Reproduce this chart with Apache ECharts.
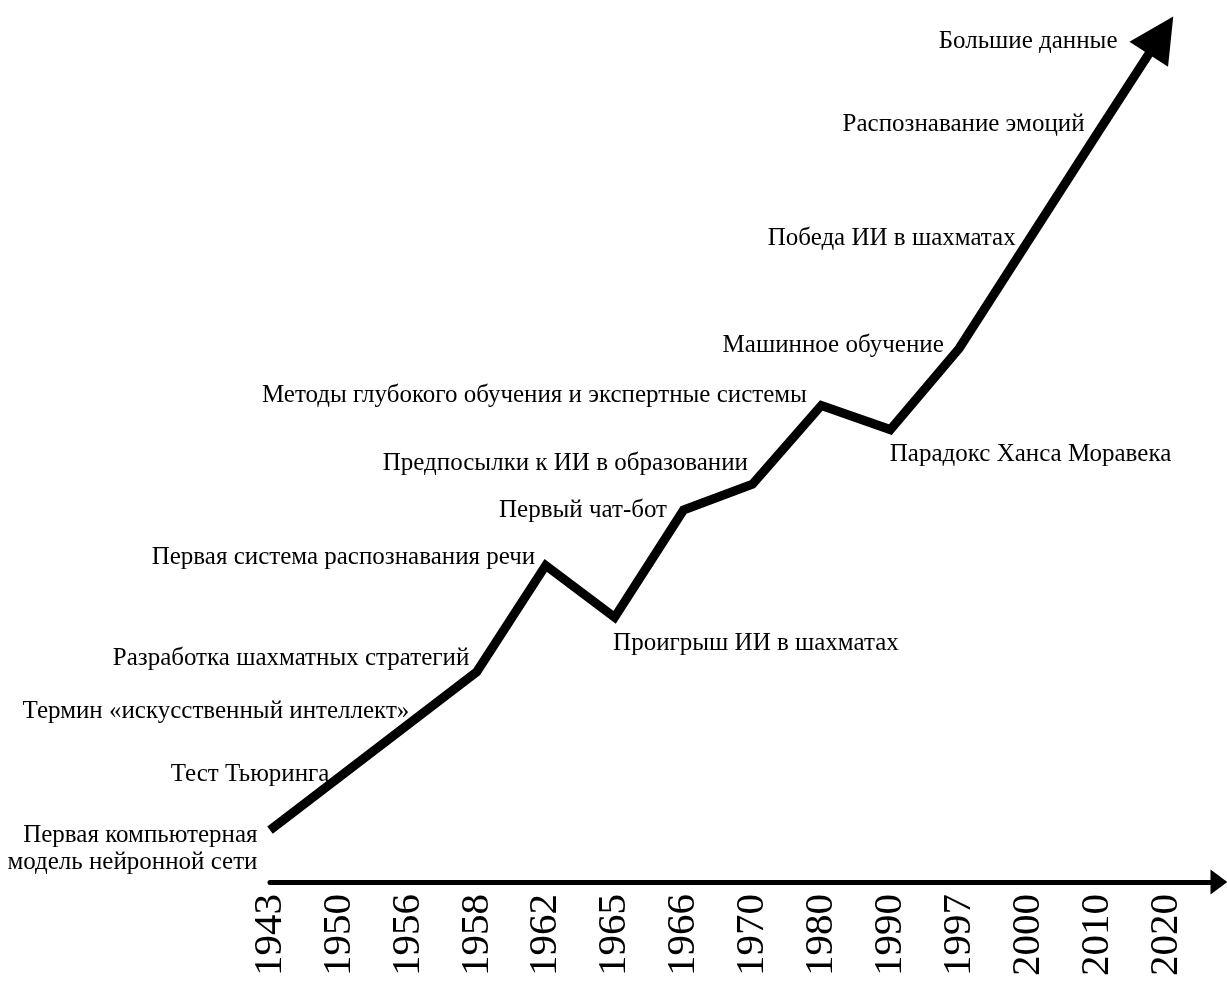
<!DOCTYPE html>
<html>
<head>
<meta charset="utf-8">
<script src="https://cdn.jsdelivr.net/npm/echarts@6/dist/echarts.min.js"></script>
<style>
html,body{margin:0;padding:0;background:#fff;}
#chart{width:1227px;height:982px;}
</style>
</head>
<body>
<div id="chart"></div>
<script>
// Years (category axis tick labels)
var years = ['1943','1950','1956','1958','1962','1965','1966','1970','1980','1990','1997','2000','2010','2020'];
// Progress level (relative units)
var levels = [6.0, 12.1, 18.2, 24.3, 36.6, 30.6, 43.0, 46.0, 55.1, 52.3, 61.7, 74.1, 86.5, 98.8];
// Event labels
var events = [
  'Первая компьютерная\nмодель нейронной сети',
  'Тест Тьюринга',
  'Термин «искусственный интеллект»',
  'Разработка шахматных стратегий',
  'Первая система распознавания речи',
  'Проигрыш ИИ в шахматах',
  'Первый чат-бот',
  'Предпосылки к ИИ в образовании',
  'Методы глубокого обучения и экспертные системы',
  'Парадокс Ханса Моравека',
  'Машинное обучение',
  'Победа ИИ в шахматах',
  'Распознавание эмоций',
  'Большие данные'
];
// label placement (style only)
var labelSide = ['left','left','left','left','left','right','left','left','left','right','left','left','left','left'];
var labelOffset = [[-12,19],[-9,-3],[2,-13],[-7,-13],[-10,-8],[-2,26],[-16,0],[-4,-21],[-14,-10],[-1,25],[-15,-3],[-12,-3],[-12,-9],[-48,14]];

var FONT = 'Liberation Serif';
var lineData = levels.map(function(v, i){
  return {
    value: v,
    label: {
      show: true,
      position: labelSide[i],
      distance: 0,
      offset: labelOffset[i],
      align: labelSide[i] === 'left' ? 'right' : 'left',
      verticalAlign: 'middle',
      formatter: events[i]
    }
  };
});

var chart = echarts.init(document.getElementById('chart'), null, {renderer:'canvas'});
chart.setOption({
  backgroundColor: '#fff',
  animation: false,
  grid: [
    {left: 270, right: 61, top: 17, bottom: 100},
    {left: 270, right: 8, top: 17, bottom: 100}
  ],
  xAxis: [
    {
      type: 'category', gridIndex: 0, data: years, boundaryGap: false,
      axisLine: {show: false}, axisTick: {show: false}, splitLine: {show: false},
      axisLabel: {rotate: 90, margin: 12, fontSize: 41, color: '#000', fontFamily: FONT, interval: 0}
    },
    {
      type: 'value', gridIndex: 1, min: 0, max: 1,
      axisLine: {show: true, lineStyle: {color: '#000', width: 5}, symbol: ['none','triangle'], symbolSize: [25, 17]},
      axisTick: {show: false}, axisLabel: {show: false}, splitLine: {show: false}
    }
  ],
  yAxis: [
    {type: 'value', gridIndex: 0, min: 0, max: 100, show: false},
    {type: 'value', gridIndex: 1, min: 0, max: 100, show: false}
  ],
  series: [
    {
      type: 'line', xAxisIndex: 0, yAxisIndex: 0,
      data: lineData,
      symbol: 'circle', symbolSize: 1, showSymbol: true,
      itemStyle: {color: 'rgba(0,0,0,0)'},
      lineStyle: {color: '#000', width: 9, join: 'miter'},
      label: {color: '#000', fontFamily: FONT, fontSize: 25, lineHeight: 27},
      z: 3
    },
    {
      type: 'scatter', xAxisIndex: 0, yAxisIndex: 0,
      data: [[years.length - 1, levels[levels.length - 1]]],
      symbol: 'triangle', symbolSize: [46, 45], symbolRotate: -33, symbolOffset: [-5, 8],
      itemStyle: {color: '#000', opacity: 1},
      z: 4
    }
  ]
});
</script>
</body>
</html>
